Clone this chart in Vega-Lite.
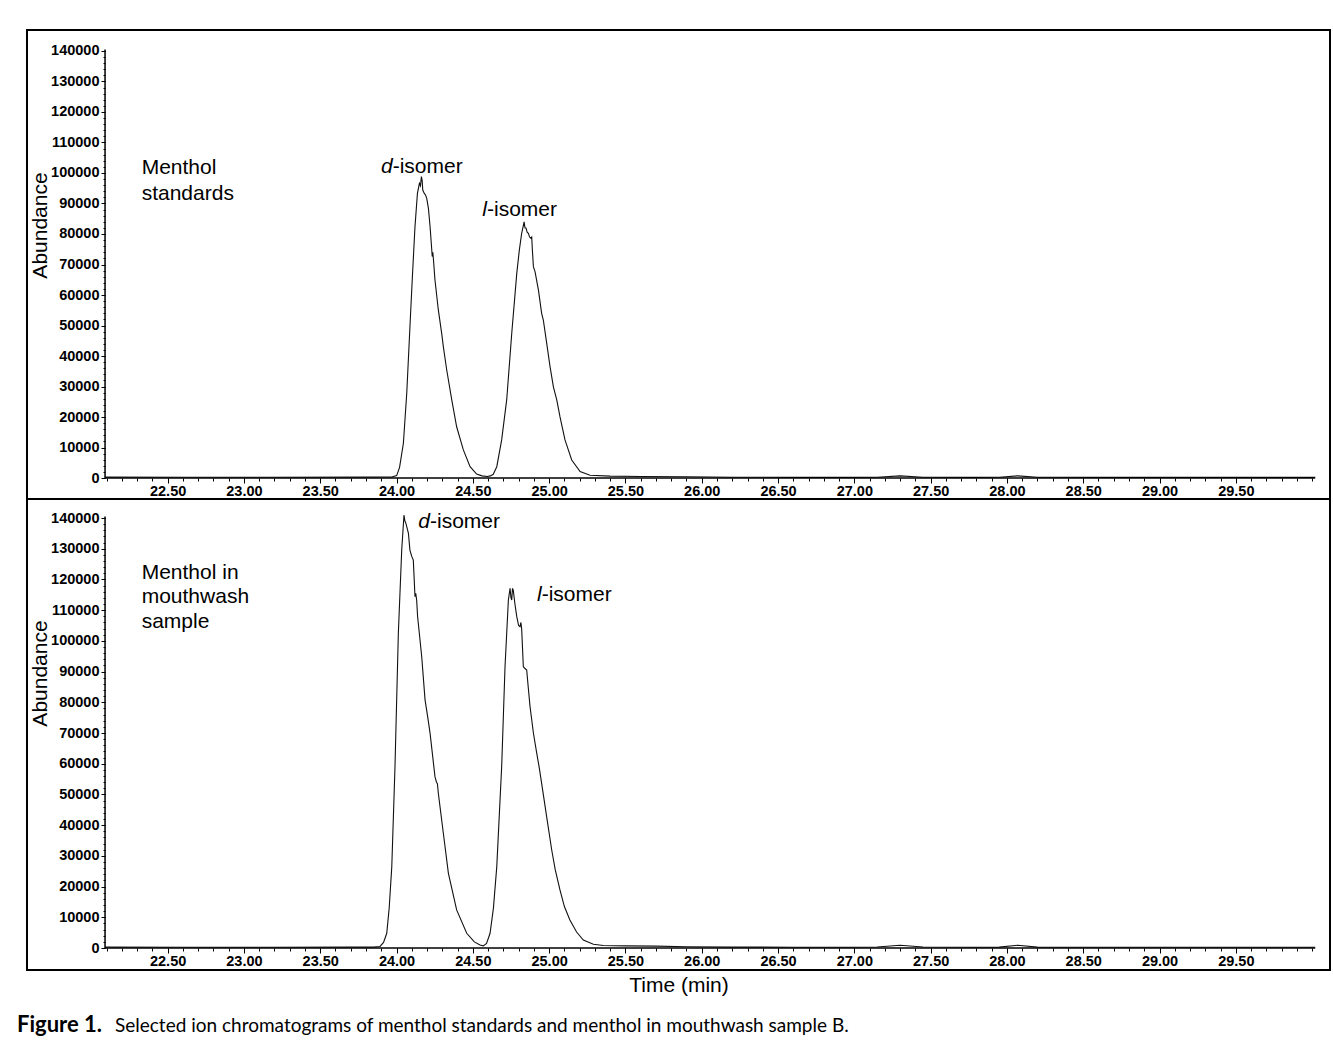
{
  "$schema": "https://vega.github.io/schema/vega-lite/v6.json",
  "background": "white",
  "padding": {"left": 16, "top": 29, "right": 3, "bottom": 5},
  "autosize": {"type": "pad"},
  "spacing": 0,
  "bounds": "flush",
  "title": {"text": "Selected ion chromatograms of menthol standards and menthol in mouthwash sample B.", "orient": "bottom", "anchor": "start", "font": "Lato", "fontSize": 19, "fontWeight": "normal", "color": "#000", "offset": -20, "dx": 99},
  "datasets": {
    "std": [
      {"t": 22.09, "a": 300}, {"t": 22.6, "a": 250}, {"t": 23.2, "a": 250}, {"t": 23.8, "a": 300}, {"t": 23.97, "a": 350},
      {"t": 24.001, "a": 800}, {"t": 24.02, "a": 3500}, {"t": 24.045, "a": 11400}, {"t": 24.067, "a": 27800}, {"t": 24.088, "a": 49600},
      {"t": 24.104, "a": 66000}, {"t": 24.121, "a": 82400}, {"t": 24.137, "a": 93300}, {"t": 24.15, "a": 96600}, {"t": 24.157, "a": 95800},
      {"t": 24.163, "a": 98800}, {"t": 24.168, "a": 97500}, {"t": 24.172, "a": 94400}, {"t": 24.182, "a": 93300}, {"t": 24.19, "a": 92800},
      {"t": 24.198, "a": 91700}, {"t": 24.209, "a": 88400}, {"t": 24.22, "a": 82400}, {"t": 24.231, "a": 74750}, {"t": 24.234, "a": 72600},
      {"t": 24.238, "a": 74000}, {"t": 24.243, "a": 71000}, {"t": 24.252, "a": 64900}, {"t": 24.274, "a": 55100}, {"t": 24.296, "a": 47400},
      {"t": 24.307, "a": 43000}, {"t": 24.329, "a": 35400}, {"t": 24.362, "a": 25600}, {"t": 24.394, "a": 16800}, {"t": 24.438, "a": 9200},
      {"t": 24.482, "a": 3700}, {"t": 24.525, "a": 1300}, {"t": 24.56, "a": 700}, {"t": 24.595, "a": 500}, {"t": 24.615, "a": 700},
      {"t": 24.634, "a": 1200}, {"t": 24.657, "a": 3700}, {"t": 24.689, "a": 12500}, {"t": 24.722, "a": 25600}, {"t": 24.755, "a": 47400},
      {"t": 24.788, "a": 67100}, {"t": 24.805, "a": 74800}, {"t": 24.82, "a": 80200}, {"t": 24.83, "a": 82500}, {"t": 24.836, "a": 84000},
      {"t": 24.842, "a": 82000}, {"t": 24.849, "a": 81900}, {"t": 24.856, "a": 80600}, {"t": 24.864, "a": 80200}, {"t": 24.872, "a": 79000},
      {"t": 24.88, "a": 78600}, {"t": 24.886, "a": 79000}, {"t": 24.89, "a": 75000}, {"t": 24.897, "a": 69300}, {"t": 24.908, "a": 67600},
      {"t": 24.93, "a": 61600}, {"t": 24.951, "a": 54000}, {"t": 24.962, "a": 51800}, {"t": 24.984, "a": 44200}, {"t": 25.006, "a": 36500},
      {"t": 25.028, "a": 29900}, {"t": 25.05, "a": 25600}, {"t": 25.071, "a": 20100}, {"t": 25.104, "a": 12500}, {"t": 25.148, "a": 5900},
      {"t": 25.203, "a": 2100}, {"t": 25.268, "a": 900}, {"t": 25.4, "a": 600}, {"t": 25.6, "a": 500}, {"t": 25.9, "a": 400},
      {"t": 26.2, "a": 250}, {"t": 26.6, "a": 200}, {"t": 27.0, "a": 200}, {"t": 27.15, "a": 250}, {"t": 27.3, "a": 700},
      {"t": 27.45, "a": 250}, {"t": 27.8, "a": 200}, {"t": 27.95, "a": 250}, {"t": 28.07, "a": 700}, {"t": 28.2, "a": 250},
      {"t": 28.6, "a": 200}, {"t": 29.2, "a": 200}, {"t": 30.02, "a": 200}
    ],
    "smp": [
      {"t": 22.09, "a": 300}, {"t": 22.6, "a": 250}, {"t": 23.2, "a": 250}, {"t": 23.7, "a": 300}, {"t": 23.85, "a": 300},
      {"t": 23.892, "a": 500}, {"t": 23.915, "a": 1800}, {"t": 23.936, "a": 4800}, {"t": 23.952, "a": 13000}, {"t": 23.969, "a": 26500},
      {"t": 23.99, "a": 59000}, {"t": 24.012, "a": 102500}, {"t": 24.034, "a": 129500}, {"t": 24.045, "a": 138000}, {"t": 24.049, "a": 141000},
      {"t": 24.055, "a": 139000}, {"t": 24.06, "a": 138500}, {"t": 24.067, "a": 137200}, {"t": 24.078, "a": 135000}, {"t": 24.088, "a": 129500},
      {"t": 24.1, "a": 127500}, {"t": 24.11, "a": 126300}, {"t": 24.115, "a": 121000}, {"t": 24.121, "a": 114400}, {"t": 24.126, "a": 115500},
      {"t": 24.132, "a": 113300}, {"t": 24.138, "a": 108000}, {"t": 24.154, "a": 100300}, {"t": 24.165, "a": 94900}, {"t": 24.187, "a": 80800},
      {"t": 24.205, "a": 75000}, {"t": 24.22, "a": 69900}, {"t": 24.252, "a": 55800}, {"t": 24.262, "a": 54000}, {"t": 24.268, "a": 53500},
      {"t": 24.274, "a": 50400}, {"t": 24.307, "a": 37300}, {"t": 24.34, "a": 24300}, {"t": 24.394, "a": 12400}, {"t": 24.46, "a": 4800},
      {"t": 24.51, "a": 2000}, {"t": 24.547, "a": 1000}, {"t": 24.569, "a": 700}, {"t": 24.59, "a": 1500}, {"t": 24.613, "a": 4800},
      {"t": 24.635, "a": 13000}, {"t": 24.657, "a": 26500}, {"t": 24.689, "a": 59000}, {"t": 24.711, "a": 91600}, {"t": 24.733, "a": 113300},
      {"t": 24.744, "a": 117100}, {"t": 24.75, "a": 114000}, {"t": 24.755, "a": 113300}, {"t": 24.76, "a": 117100}, {"t": 24.765, "a": 116500},
      {"t": 24.776, "a": 112000}, {"t": 24.788, "a": 107900}, {"t": 24.8, "a": 105000}, {"t": 24.809, "a": 104600}, {"t": 24.815, "a": 106000},
      {"t": 24.82, "a": 104000}, {"t": 24.831, "a": 91600}, {"t": 24.842, "a": 91000}, {"t": 24.853, "a": 90500}, {"t": 24.863, "a": 85000},
      {"t": 24.875, "a": 78600}, {"t": 24.897, "a": 70000}, {"t": 24.919, "a": 63400}, {"t": 24.935, "a": 58800}, {"t": 24.951, "a": 53600},
      {"t": 24.984, "a": 42700}, {"t": 25.017, "a": 31900}, {"t": 25.04, "a": 25500}, {"t": 25.071, "a": 18900}, {"t": 25.1, "a": 13500},
      {"t": 25.136, "a": 9100}, {"t": 25.18, "a": 5200}, {"t": 25.224, "a": 2600}, {"t": 25.29, "a": 1200}, {"t": 25.355, "a": 800},
      {"t": 25.5, "a": 700}, {"t": 25.7, "a": 600}, {"t": 25.9, "a": 400}, {"t": 26.2, "a": 300}, {"t": 26.6, "a": 250},
      {"t": 27.0, "a": 250}, {"t": 27.15, "a": 350}, {"t": 27.3, "a": 900}, {"t": 27.45, "a": 350}, {"t": 27.8, "a": 250},
      {"t": 27.95, "a": 300}, {"t": 28.07, "a": 900}, {"t": 28.2, "a": 300}, {"t": 28.6, "a": 250}, {"t": 29.2, "a": 250},
      {"t": 30.02, "a": 250}
    ]
  },
  "vconcat": [
    {
      "width": 1303,
      "height": 469,
      "layer": [
        {
          "data": {"name": "std"},
          "mark": {"type": "line", "color": "#111", "strokeWidth": 1.1},
          "encoding": {
            "x": {"field": "t", "type": "quantitative", "scale": {"domain": [21.5786, 30.117], "nice": false, "zero": false},
              "axis": {"orient": "bottom", "offset": -21, "values": [22.5, 23, 23.5, 24, 24.5, 25, 25.5, 26, 26.5, 27, 27.5, 28, 28.5, 29, 29.5], "format": ".2f", "tickSize": 5, "labelPadding": 1, "title": null, "labelOverlap": false, "labelFlush": false}},
            "y": {"field": "a", "type": "quantitative", "scale": {"domain": [-6885, 146885], "nice": false, "zero": false},
              "axis": {"orient": "left", "offset": -78, "values": [0, 10000, 20000, 30000, 40000, 50000, 60000, 70000, 80000, 90000, 100000, 110000, 120000, 130000, 140000], "format": "d", "tickSize": 4, "labelPadding": 2, "labelOverlap": false, "labelFlush": false, "title": "Abundance", "titleX": -65, "titleY": 195, "titleAngle": 270, "titleAlign": "center", "titleBaseline": "middle"}}
          }
        },
        {
          "data": {"values": [{}]},
          "mark": {"type": "rule", "color": "#000", "strokeWidth": 1.5},
          "encoding": {
            "x": {"datum": 22.09, "type": "quantitative", "scale": {"domain": [21.5786, 30.117], "nice": false, "zero": false},
              "axis": {"orient": "bottom", "offset": -21, "values": [22.1,22.2,22.3,22.4,22.5,22.6,22.7,22.8,22.9,23,23.1,23.2,23.3,23.4,23.5,23.6,23.7,23.8,23.9,24,24.1,24.2,24.3,24.4,24.5,24.6,24.7,24.8,24.9,25,25.1,25.2,25.3,25.4,25.5,25.6,25.7,25.8,25.9,26,26.1,26.2,26.3,26.4,26.5,26.6,26.7,26.8,26.9,27,27.1,27.2,27.3,27.4,27.5,27.6,27.7,27.8,27.9,28,28.1,28.2,28.3,28.4,28.5,28.6,28.7,28.8,28.9,29,29.1,29.2,29.3,29.4,29.5,29.6,29.7,29.8,29.9,30], "labels": false, "tickSize": 3, "title": null}},
            "x2": {"datum": 30.02},
            "y": {"datum": 0, "type": "quantitative", "scale": {"domain": [-6885, 146885], "nice": false, "zero": false},
              "axis": {"orient": "left", "offset": -78, "values": [0,2000,4000,6000,8000,10000,12000,14000,16000,18000,20000,22000,24000,26000,28000,30000,32000,34000,36000,38000,40000,42000,44000,46000,48000,50000,52000,54000,56000,58000,60000,62000,64000,66000,68000,70000,72000,74000,76000,78000,80000,82000,84000,86000,88000,90000,92000,94000,96000,98000,100000,102000,104000,106000,108000,110000,112000,114000,116000,118000,120000,122000,124000,126000,128000,130000,132000,134000,136000,138000,140000], "labels": false, "tickSize": 2, "title": null}}
          }
        },
        {
          "data": {"values": [{}]},
          "mark": {"type": "rule", "color": "#000", "strokeWidth": 1.5},
          "encoding": {
            "x": {"datum": 22.09, "type": "quantitative", "scale": {"domain": [21.5786, 30.117], "nice": false, "zero": false}, "axis": null},
            "y": {"datum": 0, "type": "quantitative", "scale": {"domain": [-6885, 146885], "nice": false, "zero": false}, "axis": null},
            "y2": {"datum": 140500}
          }
        },
        {
          "data": {"values": [{"t": 23.975, "a": 101900, "pre": "d", "rest": "-isomer"}, {"t": 24.593, "a": 87900, "pre": "l", "rest": "-isomer"}]},
          "layer": [
            {"mark": {"type": "text", "align": "right", "baseline": "middle", "font": "Liberation Sans", "fontSize": 21, "fontStyle": "italic", "color": "#000"},
              "encoding": {"x": {"field": "t", "type": "quantitative", "scale": {"domain": [21.5786, 30.117], "nice": false, "zero": false}, "axis": null}, "y": {"field": "a", "type": "quantitative", "scale": {"domain": [-6885, 146885], "nice": false, "zero": false}, "axis": null}, "text": {"field": "pre"}}},
            {"mark": {"type": "text", "align": "left", "baseline": "middle", "font": "Liberation Sans", "fontSize": 21, "color": "#000"},
              "encoding": {"x": {"field": "t", "type": "quantitative", "scale": {"domain": [21.5786, 30.117], "nice": false, "zero": false}, "axis": null}, "y": {"field": "a", "type": "quantitative", "scale": {"domain": [-6885, 146885], "nice": false, "zero": false}, "axis": null}, "text": {"field": "rest"}}}
          ]
        },
        {
          "data": {"values": [{"t": 22.33, "a": 99700, "s": "Menthol\nstandards"}]},
          "mark": {"type": "text", "align": "left", "baseline": "alphabetic", "font": "Liberation Sans", "fontSize": 21, "lineBreak": "\n", "lineHeight": 26, "color": "#000"},
          "encoding": {"x": {"field": "t", "type": "quantitative", "scale": {"domain": [21.5786, 30.117], "nice": false, "zero": false}, "axis": null}, "y": {"field": "a", "type": "quantitative", "scale": {"domain": [-6885, 146885], "nice": false, "zero": false}, "axis": null}, "text": {"field": "s"}}
        }
      ],
      "resolve": {"axis": {"x": "independent", "y": "independent"}}
    },
    {
      "width": 1303,
      "height": 471,
      "title": {"text": "Figure 1.", "orient": "bottom", "anchor": "start", "font": "Lato", "fontSize": 22, "fontWeight": "bold", "color": "#000", "offset": 19, "dx": -10},
      "layer": [
        {
          "data": {"name": "smp"},
          "mark": {"type": "line", "color": "#111", "strokeWidth": 1.1},
          "encoding": {
            "x": {"field": "t", "type": "quantitative", "scale": {"domain": [21.5786, 30.117], "nice": false, "zero": false},
              "axis": {"orient": "bottom", "offset": -22, "values": [22.5, 23, 23.5, 24, 24.5, 25, 25.5, 26, 26.5, 27, 27.5, 28, 28.5, 29, 29.5], "format": ".2f", "tickSize": 5, "labelPadding": 1, "title": "Time (min)", "titlePadding": 7, "labelOverlap": false, "labelFlush": false}},
            "y": {"field": "a", "type": "quantitative", "scale": {"domain": [-7163, 146200], "nice": false, "zero": false},
              "axis": {"orient": "left", "offset": -78, "values": [0, 10000, 20000, 30000, 40000, 50000, 60000, 70000, 80000, 90000, 100000, 110000, 120000, 130000, 140000], "format": "d", "tickSize": 4, "labelPadding": 2, "labelOverlap": false, "labelFlush": false, "title": "Abundance", "titleX": -65, "titleY": 174, "titleAngle": 270, "titleAlign": "center", "titleBaseline": "middle"}}
          }
        },
        {
          "data": {"values": [{}]},
          "mark": {"type": "rule", "color": "#000", "strokeWidth": 1.5},
          "encoding": {
            "x": {"datum": 22.09, "type": "quantitative", "scale": {"domain": [21.5786, 30.117], "nice": false, "zero": false},
              "axis": {"orient": "bottom", "offset": -22, "values": [22.1,22.2,22.3,22.4,22.5,22.6,22.7,22.8,22.9,23,23.1,23.2,23.3,23.4,23.5,23.6,23.7,23.8,23.9,24,24.1,24.2,24.3,24.4,24.5,24.6,24.7,24.8,24.9,25,25.1,25.2,25.3,25.4,25.5,25.6,25.7,25.8,25.9,26,26.1,26.2,26.3,26.4,26.5,26.6,26.7,26.8,26.9,27,27.1,27.2,27.3,27.4,27.5,27.6,27.7,27.8,27.9,28,28.1,28.2,28.3,28.4,28.5,28.6,28.7,28.8,28.9,29,29.1,29.2,29.3,29.4,29.5,29.6,29.7,29.8,29.9,30], "labels": false, "tickSize": 3, "title": null}},
            "x2": {"datum": 30.02},
            "y": {"datum": 0, "type": "quantitative", "scale": {"domain": [-7163, 146200], "nice": false, "zero": false},
              "axis": {"orient": "left", "offset": -78, "values": [0,2000,4000,6000,8000,10000,12000,14000,16000,18000,20000,22000,24000,26000,28000,30000,32000,34000,36000,38000,40000,42000,44000,46000,48000,50000,52000,54000,56000,58000,60000,62000,64000,66000,68000,70000,72000,74000,76000,78000,80000,82000,84000,86000,88000,90000,92000,94000,96000,98000,100000,102000,104000,106000,108000,110000,112000,114000,116000,118000,120000,122000,124000,126000,128000,130000,132000,134000,136000,138000,140000], "labels": false, "tickSize": 2, "title": null}}
          }
        },
        {
          "data": {"values": [{}]},
          "mark": {"type": "rule", "color": "#000", "strokeWidth": 1.5},
          "encoding": {
            "x": {"datum": 22.09, "type": "quantitative", "scale": {"domain": [21.5786, 30.117], "nice": false, "zero": false}, "axis": null},
            "y": {"datum": 0, "type": "quantitative", "scale": {"domain": [-7163, 146200], "nice": false, "zero": false}, "axis": null},
            "y2": {"datum": 140500}
          }
        },
        {
          "data": {"values": [{"t": 24.2195, "a": 138800, "pre": "d", "rest": "-isomer"}, {"t": 24.951, "a": 114900, "pre": "l", "rest": "-isomer"}]},
          "layer": [
            {"mark": {"type": "text", "align": "right", "baseline": "middle", "font": "Liberation Sans", "fontSize": 21, "fontStyle": "italic", "color": "#000"},
              "encoding": {"x": {"field": "t", "type": "quantitative", "scale": {"domain": [21.5786, 30.117], "nice": false, "zero": false}, "axis": null}, "y": {"field": "a", "type": "quantitative", "scale": {"domain": [-7163, 146200], "nice": false, "zero": false}, "axis": null}, "text": {"field": "pre"}}},
            {"mark": {"type": "text", "align": "left", "baseline": "middle", "font": "Liberation Sans", "fontSize": 21, "color": "#000"},
              "encoding": {"x": {"field": "t", "type": "quantitative", "scale": {"domain": [21.5786, 30.117], "nice": false, "zero": false}, "axis": null}, "y": {"field": "a", "type": "quantitative", "scale": {"domain": [-7163, 146200], "nice": false, "zero": false}, "axis": null}, "text": {"field": "rest"}}}
          ]
        },
        {
          "data": {"values": [{"t": 22.33, "a": 120200, "s": "Menthol in\nmouthwash\nsample"}]},
          "mark": {"type": "text", "align": "left", "baseline": "alphabetic", "font": "Liberation Sans", "fontSize": 21, "lineBreak": "\n", "lineHeight": 24.5, "color": "#000"},
          "encoding": {"x": {"field": "t", "type": "quantitative", "scale": {"domain": [21.5786, 30.117], "nice": false, "zero": false}, "axis": null}, "y": {"field": "a", "type": "quantitative", "scale": {"domain": [-7163, 146200], "nice": false, "zero": false}, "axis": null}, "text": {"field": "s"}}
        }
      ],
      "resolve": {"axis": {"x": "independent", "y": "independent"}}
    }
  ],
  "config": {
    "view": {"stroke": "#000", "strokeWidth": 2},
    "axis": {"labelFont": "Liberation Sans", "labelFontWeight": "bold", "labelFontSize": 14.5, "labelColor": "#000", "tickColor": "#000", "tickWidth": 1, "domain": false, "grid": false, "titleFont": "Liberation Sans", "titleFontWeight": "normal", "titleFontSize": 21, "titleColor": "#000"}
  }
}
